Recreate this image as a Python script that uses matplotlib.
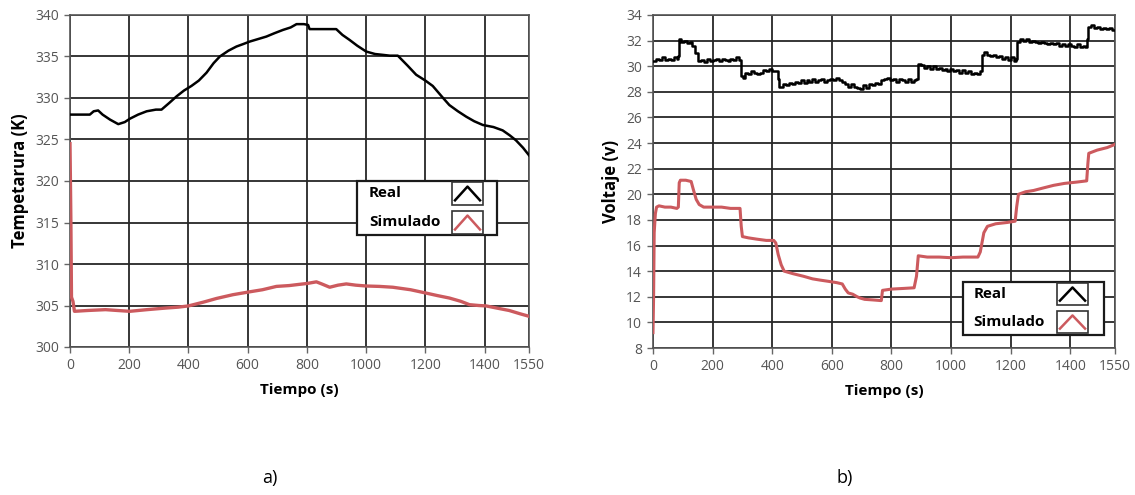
import matplotlib
matplotlib.use("Agg")
import matplotlib.pyplot as plt
from matplotlib.patches import Rectangle

plt.rcParams['font.family'] = ['Open Sans', 'DejaVu Sans']

# --- a) temperatura ---
t_temp_real = [0, 67, 80, 95, 110, 135, 163, 185, 202, 230, 259, 290, 309, 335, 360, 385,
               410, 435, 461, 485, 506, 535, 562, 585, 607, 635, 663, 690, 719, 745, 765,
               790, 804, 809, 850, 899, 920, 944, 970, 1000, 1030, 1056, 1080, 1107, 1140,
               1169, 1200, 1225, 1255, 1281, 1310, 1338, 1365, 1394, 1430, 1461, 1485,
               1506, 1530, 1550]
temp_real = [328.0, 328.0, 328.4, 328.5, 328.0, 327.4, 326.85, 327.1, 327.5, 328.0, 328.4,
             328.6, 328.6, 329.4, 330.2, 330.9, 331.45, 332.1, 333.05, 334.2, 335.0, 335.7,
             336.2, 336.5, 336.8, 337.1, 337.4, 337.8, 338.2, 338.5, 338.9, 338.9, 338.8,
             338.3, 338.3, 338.3, 337.6, 337.0, 336.3, 335.6, 335.3, 335.2, 335.1, 335.1,
             333.9, 332.8, 332.1, 331.45, 330.2, 329.15, 328.4, 327.75, 327.2, 326.75,
             326.5, 326.1, 325.5, 324.9, 324.0, 323.1]

t_temp_sim = [0, 3, 5, 10, 15, 60, 120, 160, 202, 260, 326, 365, 400, 450, 495, 550, 607,
              650, 697, 740, 775, 800, 832, 850, 877, 905, 933, 965, 1000, 1045, 1090,
              1150, 1202, 1240, 1281, 1320, 1349, 1380, 1405, 1440, 1483, 1520, 1550]
temp_sim = [324.5, 315.0, 306.0, 305.5, 304.3, 304.4, 304.5, 304.4, 304.3, 304.5, 304.7,
            304.8, 304.95, 305.4, 305.85, 306.3, 306.65, 306.9, 307.3, 307.4, 307.55,
            307.65, 307.85, 307.6, 307.2, 307.45, 307.6, 307.45, 307.35, 307.3, 307.2,
            306.9, 306.5, 306.2, 305.9, 305.5, 305.1, 305.0, 304.95, 304.7, 304.4, 304.0,
            303.7]

# --- b) voltaje ---
t_volt_real = [0, 10, 20, 30, 40, 50, 60, 70, 80, 85, 88, 95, 105, 115, 125, 132, 140, 150,
               160, 170, 180, 190, 200, 210, 220, 230, 240, 250, 260, 270, 280, 290, 296,
               302, 308, 320, 330, 340, 350, 360, 370, 380, 390, 400, 410, 418, 424, 435,
               445, 455, 465, 475, 485, 495, 505, 515, 525, 535, 545, 555, 565, 575, 585,
               595, 605, 615, 625, 635, 645, 655, 665, 675, 685, 695, 705, 715, 725, 735,
               745, 755, 765, 775, 785, 795, 805, 815, 825, 835, 845, 855, 865, 875, 884,
               888, 898, 908, 918, 928, 938, 948, 958, 968, 978, 988, 998, 1008, 1018,
               1028, 1038, 1048, 1058, 1068, 1078, 1088, 1098, 1104, 1112, 1122, 1132,
               1142, 1152, 1162, 1172, 1182, 1192, 1202, 1212, 1218, 1222, 1232, 1242,
               1252, 1262, 1272, 1282, 1292, 1302, 1312, 1322, 1332, 1342, 1352, 1362,
               1372, 1382, 1392, 1402, 1412, 1422, 1432, 1442, 1450, 1456, 1460, 1470,
               1480, 1490, 1500, 1510, 1520, 1530, 1540, 1550]
volt_real = [30.4, 30.6, 30.5, 30.7, 30.5, 30.6, 30.5, 30.7, 30.6, 30.8, 32.1, 31.9, 32.0,
             31.8, 31.9, 31.6, 31.0, 30.4, 30.5, 30.3, 30.6, 30.4, 30.5, 30.6, 30.4, 30.6,
             30.5, 30.4, 30.6, 30.5, 30.7, 30.5, 29.2, 29.1, 29.5, 29.4, 29.6, 29.5, 29.4,
             29.5, 29.7, 29.6, 29.8, 29.6, 29.6, 29.0, 28.4, 28.6, 28.5, 28.7, 28.6, 28.8,
             28.7, 28.9, 28.7, 28.9, 28.8, 29.0, 28.8, 28.9, 29.0, 28.8, 28.9, 29.0, 28.9,
             29.1, 28.9, 28.8, 28.6, 28.4, 28.6, 28.4, 28.3, 28.2, 28.5, 28.3, 28.6, 28.5,
             28.7, 28.6, 28.9, 29.0, 29.1, 28.9, 29.0, 28.8, 29.0, 28.9, 28.8, 29.0, 28.8,
             28.9, 29.0, 30.2, 30.1, 29.9, 30.0, 29.8, 30.0, 29.8, 29.9, 29.7, 29.8, 29.6,
             29.8, 29.6, 29.7, 29.5, 29.7, 29.5, 29.6, 29.4, 29.5, 29.4, 29.6, 30.9, 31.1,
             30.9, 30.8, 30.9, 30.7, 30.8, 30.6, 30.7, 30.5, 30.7, 30.4, 30.6, 31.9, 32.1,
             32.0, 32.1, 31.9, 32.0, 31.9, 31.8, 31.9, 31.8, 31.7, 31.8, 31.7, 31.8, 31.6,
             31.7, 31.6, 31.7, 31.6, 31.5, 31.7, 31.5, 31.6, 31.5, 32.1, 33.1, 33.2, 33.0,
             33.1, 32.9, 33.0, 32.9, 33.0, 32.8, 32.8]

t_volt_sim = [0, 2, 4, 8, 12, 20, 40, 60, 80, 85, 88, 92, 110, 128, 135, 145, 155, 170, 200,
              230, 260, 292, 296, 300, 320, 348, 380, 405, 412, 420, 430, 440, 470, 505,
              535, 561, 590, 617, 635, 645, 655, 670, 685, 695, 710, 740, 766, 770, 800,
              840, 876, 884, 890, 920, 960, 1000, 1040, 1090, 1098, 1110, 1122, 1150, 1188,
              1215, 1220, 1226, 1250, 1277, 1310, 1344, 1380, 1420, 1455, 1459, 1462, 1490,
              1524, 1550]
volt_sim = [9.2, 12.0, 17.0, 18.5, 19.0, 19.1, 19.0, 19.0, 18.9, 19.0, 20.9, 21.1, 21.1,
            21.0, 20.4, 19.6, 19.2, 19.0, 19.0, 19.0, 18.9, 18.9, 17.5, 16.7, 16.6, 16.5,
            16.4, 16.4, 16.2, 15.3, 14.5, 14.0, 13.8, 13.6, 13.4, 13.3, 13.2, 13.1, 13.0,
            12.6, 12.3, 12.2, 12.0, 11.9, 11.8, 11.75, 11.7, 12.5, 12.6, 12.65, 12.7, 13.6,
            15.2, 15.1, 15.1, 15.05, 15.1, 15.1, 15.5, 17.0, 17.5, 17.7, 17.8, 17.9, 19.0,
            20.0, 20.2, 20.3, 20.5, 20.7, 20.85, 20.95, 21.05, 22.4, 23.2, 23.45, 23.65,
            23.9]

x_ticks = [0, 200, 400, 600, 800, 1000, 1200, 1400, 1550]
temp_ticks = [300, 305, 310, 315, 320, 325, 330, 335, 340]
volt_ticks = list(range(8, 35, 2))
series_names = ['Real', 'Simulado']

RED = '#cc5a5e'
GRID = '#262626'


def style_axes(ax, yticks, ylabel):
    ax.set_xlim(0, 1550)
    ax.set_xticks(x_ticks)
    ax.set_yticks(yticks)
    ax.set_ylim(yticks[0], yticks[-1])
    ax.grid(True, color=GRID, linewidth=1.3)
    for s in ax.spines.values():
        s.set_color('#555555')
        s.set_linewidth(1.2)
    ax.tick_params(direction='out', length=4, width=1, color='#666666',
                   labelcolor='#555555', labelsize=10, pad=4)
    ax.set_xlabel('Tiempo (s)', fontsize=11, fontweight='bold', labelpad=7)
    ax.set_ylabel(ylabel, fontsize=12, fontweight='bold', labelpad=4)


def draw_legend(ax, box, icon_x, rows, text_x):
    x0, y0, x1, y1 = box
    ax.add_patch(Rectangle((x0, y0), x1 - x0, y1 - y0, transform=ax.transAxes,
                           facecolor='white', edgecolor='#1a1a1a', linewidth=1.6,
                           zorder=5, clip_on=False))
    for name, color, (ry0, ry1) in zip(series_names, ['black', RED], rows):
        ix0, ix1 = icon_x
        ax.add_patch(Rectangle((ix0, ry0), ix1 - ix0, ry1 - ry0, transform=ax.transAxes,
                               facecolor='white', edgecolor='#333333', linewidth=1.2,
                               zorder=6, clip_on=False))
        w = ix1 - ix0
        h = ry1 - ry0
        ax.plot([ix0 + 0.1 * w, ix0 + 0.5 * w, ix0 + 0.9 * w],
                [ry0 + 0.2 * h, ry0 + 0.8 * h, ry0 + 0.2 * h],
                transform=ax.transAxes, color=color, linewidth=1.8, zorder=7,
                clip_on=False)
        ax.text(text_x, (ry0 + ry1) / 2, name, transform=ax.transAxes, fontsize=11,
                fontweight='bold', va='center', ha='left', zorder=7)


fig = plt.figure(figsize=(11.35, 4.95), dpi=100)

ax1 = fig.add_axes([70 / 1135, 148 / 495, 459 / 1135, 332 / 495])
ax1.plot(t_temp_real, temp_real, color='black', linewidth=1.8, zorder=3)
ax1.plot(t_temp_sim, temp_sim, color=RED, linewidth=2.4, zorder=3)
style_axes(ax1, temp_ticks, 'Tempetarura (K)')
draw_legend(ax1, (0.625, 0.337, 0.930, 0.500), (0.832, 0.900),
            [(0.428, 0.497), (0.340, 0.410)], 0.651)

ax2 = fig.add_axes([653 / 1135, 147 / 495, 462 / 1135, 333 / 495])
ax2.plot(t_volt_real, volt_real, color='black', linewidth=1.8, drawstyle='steps-post',
         zorder=3)
ax2.plot(t_volt_sim, volt_sim, color=RED, linewidth=2.2, zorder=3)
style_axes(ax2, volt_ticks, 'Voltaje (v)')
draw_legend(ax2, (0.671, 0.039, 0.976, 0.198), (0.874, 0.942),
            [(0.129, 0.195), (0.045, 0.111)], 0.693)

fig.text(270 / 1135, 1 - 478 / 495, 'a)', fontsize=13, ha='center', va='center')
fig.text(845 / 1135, 1 - 478 / 495, 'b)', fontsize=13, ha='center', va='center')

fig.savefig('out.png', dpi=100, facecolor='white')
